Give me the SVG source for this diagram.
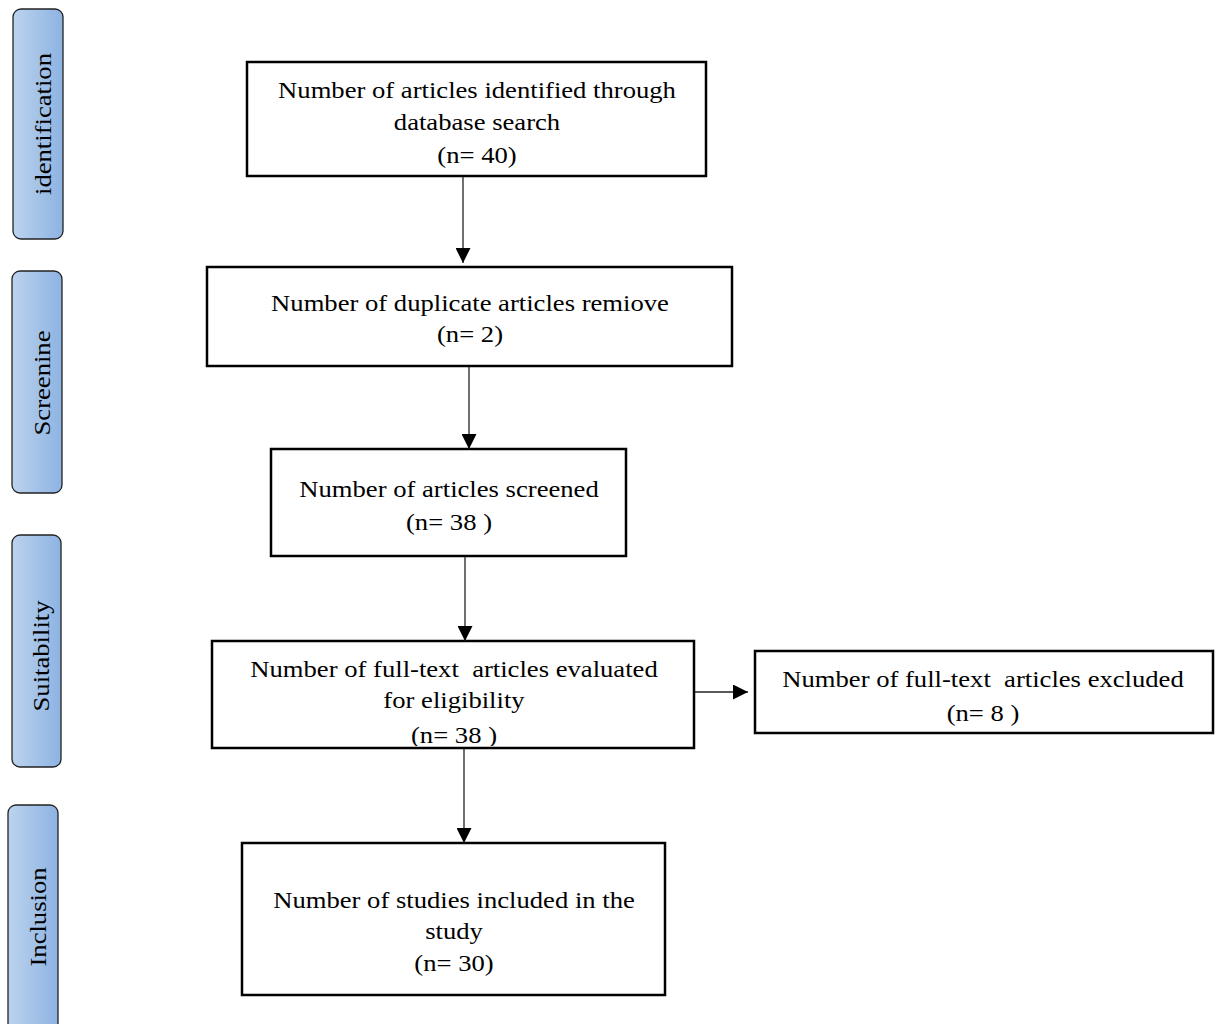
<svg xmlns="http://www.w3.org/2000/svg" width="1217" height="1024" viewBox="0 0 1217 1024">
<style>
.box{fill:#fff;stroke:#000;stroke-width:2.5}
.side{stroke:#222;stroke-width:1.3}
.t{font-family:"Liberation Serif","Times New Roman",serif;font-size:24px;fill:#000;text-anchor:middle}
.c{stroke:#222;stroke-width:1.3;fill:none;marker-end:url(#ah)}
</style>
<defs>
<linearGradient id="g" x1="0" y1="0" x2="1" y2="0">
<stop offset="0" stop-color="#bcd3ee"/>
<stop offset="1" stop-color="#8db3e2"/>
</linearGradient>
<marker id="ah" viewBox="0 0 15 15" refX="15" refY="7.5" markerWidth="15" markerHeight="15" markerUnits="userSpaceOnUse" orient="auto">
<path d="M0,0 L15,7.5 L0,15 Z" fill="#000"/>
</marker>
<clipPath id="clip4"><rect x="-230" y="641" width="460" height="105"/></clipPath>
</defs>
<rect width="1217" height="1024" fill="#fff"/>

<g id="side-identification">
<rect class="side" x="13" y="9" width="50" height="230" rx="8" fill="url(#g)"/>
<text class="t" transform="translate(51,124) rotate(-90) scale(1.11,1)">identification</text>
</g>
<g id="side-screening">
<rect class="side" x="12" y="271" width="50" height="222" rx="8" fill="url(#g)"/>
<text class="t" transform="translate(50,383) rotate(-90) scale(1.11,1)">Screenine</text>
</g>
<g id="side-suitability">
<rect class="side" x="12" y="535" width="49" height="232" rx="8" fill="url(#g)"/>
<text class="t" transform="translate(49,656) rotate(-90) scale(1.11,1)">Suitability</text>
</g>
<g id="side-inclusion">
<rect class="side" x="8" y="805" width="50" height="240" rx="8" fill="url(#g)"/>
<text class="t" transform="translate(46,917) rotate(-90) scale(1.11,1)">Inclusion</text>
</g>

<g id="n1">
<rect class="box" x="247" y="62" width="459" height="114"/>
<g transform="translate(477,0) scale(1.11,1)">
<text class="t" x="0" y="98">Number of articles identified through</text>
<text class="t" x="0" y="130">database search</text>
<text class="t" x="0" y="163">(n= 40)</text>
</g>
</g>
<g id="n2">
<rect class="box" x="207" y="267" width="525" height="99"/>
<g transform="translate(470,0) scale(1.11,1)">
<text class="t" x="0" y="311">Number of duplicate articles remiove</text>
<text class="t" x="0" y="342">(n= 2)</text>
</g>
</g>
<g id="n3">
<rect class="box" x="271" y="449" width="355" height="107"/>
<g transform="translate(449,0) scale(1.11,1)">
<text class="t" x="0" y="497">Number of articles screened</text>
<text class="t" x="0" y="530">(n= 38 )</text>
</g>
</g>
<g id="n4">
<rect class="box" x="212" y="641" width="482" height="107"/>
<g transform="translate(454,0) scale(1.11,1)">
<text class="t" x="0" y="677" xml:space="preserve">Number of full-text  articles evaluated</text>
<text class="t" x="0" y="708">for eligibility</text>
<text class="t" x="0" y="743" clip-path="url(#clip4)">(n= 38 )</text>
</g>
</g>
<g id="n5">
<rect class="box" x="755" y="651" width="458" height="82"/>
<g transform="translate(983,0) scale(1.11,1)">
<text class="t" x="0" y="687" xml:space="preserve">Number of full-text  articles excluded</text>
<text class="t" x="0" y="721">(n= 8 )</text>
</g>
</g>
<g id="n6">
<rect class="box" x="242" y="843" width="423" height="152"/>
<g transform="translate(454,0) scale(1.11,1)">
<text class="t" x="0" y="908">Number of studies included in the</text>
<text class="t" x="0" y="939">study</text>
<text class="t" x="0" y="971">(n= 30)</text>
</g>
</g>

<g id="connectors">
<line class="c" x1="463" y1="177" x2="463" y2="263"/>
<line class="c" x1="469" y1="367" x2="469" y2="449"/>
<line class="c" x1="465" y1="557" x2="465" y2="641"/>
<line class="c" x1="464" y1="749" x2="464" y2="843"/>
<line class="c" x1="695" y1="692" x2="748" y2="692"/>
</g>
</svg>
